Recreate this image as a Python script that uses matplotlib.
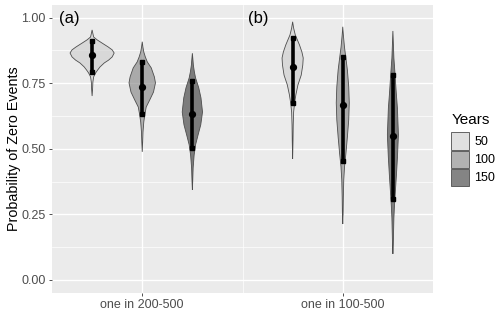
import matplotlib
matplotlib.use("Agg")
import matplotlib.pyplot as plt
from matplotlib.colors import to_rgba
from matplotlib.patches import Patch
import numpy as np

plt.rcParams["font.family"] = ["Liberation Sans", "DejaVu Sans"]

CATEGORIES = ["one in 200-500", "one in 100-500"]
PANEL_TAGS = ["(a)", "(b)"]
YEARS      = ["50", "100", "150"]

# violin outlines: probability level and density there
A50_Y  = [0.953, 0.941, 0.926, 0.915, 0.903, 0.888, 0.877, 0.865, 0.850,
          0.838, 0.827, 0.812, 0.800, 0.789, 0.774, 0.754, 0.724, 0.701]
A50_D  = [0.0, 0.3, 0.7, 2.3, 4.5, 7.3, 9.1, 10.0, 9.1,
          7.5, 5.5, 3.6, 2.5, 1.6, 0.7, 0.35, 0.2, 0.0]
A100_Y = [0.908, 0.888, 0.869, 0.850, 0.831, 0.808, 0.774, 0.751,
          0.716, 0.686, 0.659, 0.636, 0.602, 0.564, 0.526, 0.488]
A100_D = [0.0, 0.3, 0.7, 1.4, 2.3, 4.1, 5.5, 6.0,
          5.1, 3.4, 1.8, 1.3, 0.7, 0.35, 0.2, 0.0]
A150_Y = [0.864, 0.838, 0.819, 0.793, 0.770, 0.732, 0.694, 0.640,
          0.591, 0.553, 0.515, 0.476, 0.427, 0.381, 0.343]
A150_D = [0.0, 0.27, 0.45, 0.9, 1.45, 2.9, 3.9, 4.6,
          3.8, 2.6, 1.45, 0.8, 0.35, 0.18, 0.0]
B50_Y  = [0.984, 0.960, 0.934, 0.896, 0.869, 0.846, 0.819, 0.781,
          0.743, 0.705, 0.675, 0.640, 0.591, 0.534, 0.461]
B50_D  = [0.0, 0.45, 1.2, 3.1, 4.2, 4.8, 4.6, 3.9,
          2.4, 1.45, 0.9, 0.45, 0.27, 0.18, 0.0]
B100_Y = [0.965, 0.934, 0.888, 0.850, 0.800, 0.736, 0.675, 0.610,
          0.545, 0.484, 0.431, 0.381, 0.316, 0.259, 0.213]
B100_D = [0.0, 0.27, 0.77, 1.35, 2.1, 2.7, 2.95, 2.7,
          2.1, 1.45, 0.8, 0.45, 0.27, 0.18, 0.0]
B150_Y = [0.949, 0.896, 0.846, 0.781, 0.716, 0.655, 0.553, 0.465,
          0.400, 0.335, 0.286, 0.236, 0.171, 0.133, 0.099]
B150_D = [0.0, 0.23, 0.45, 1.0, 1.5, 2.05, 2.5, 2.05,
          1.6, 1.1, 0.73, 0.45, 0.27, 0.18, 0.0]

# median and interval bounds, per category, in YEARS order
MEDIAN_A = [0.857, 0.735, 0.633]
LOWER_A  = [0.794, 0.631, 0.502]
UPPER_A  = [0.912, 0.832, 0.758]
MEDIAN_B = [0.813, 0.666, 0.549]
LOWER_B  = [0.675, 0.455, 0.308]
UPPER_B  = [0.921, 0.849, 0.780]

PROFILES = [
    [(A50_Y, A50_D), (A100_Y, A100_D), (A150_Y, A150_D)],
    [(B50_Y, B50_D), (B100_Y, B100_D), (B150_Y, B150_D)],
]
MEDIANS = [MEDIAN_A, MEDIAN_B]
LOWERS  = [LOWER_A, LOWER_B]
UPPERS  = [UPPER_A, UPPER_B]

FILLS       = ["#CCCCCC", "#7F7F7F", "#333333"]
FILL_ALPHA  = 0.6
DODGE       = [-0.25, 0.0, 0.25]
WIDTH_SCALE = 0.011
PANEL_BG    = "#EBEBEB"


def main():
    fig = plt.figure(figsize=(5.0, 3.13), dpi=100)
    ax = fig.add_axes([0.104, 0.064, 0.762, 0.920])
    ax.set_facecolor(PANEL_BG)

    for ci in range(len(CATEGORIES)):
        for gi in range(len(YEARS)):
            x0 = ci + 1 + DODGE[gi]
            y = np.array(PROFILES[ci][gi][0])
            hw = np.array(PROFILES[ci][gi][1]) * WIDTH_SCALE
            xs = np.concatenate([x0 - hw, (x0 + hw)[::-1]])
            ys = np.concatenate([y, y[::-1]])
            ax.fill(xs, ys, facecolor=to_rgba(FILLS[gi], FILL_ALPHA),
                    edgecolor="#4D4D4D", linewidth=0.6, zorder=2)

            lo, hi, med = LOWERS[ci][gi], UPPERS[ci][gi], MEDIANS[ci][gi]
            ax.plot([x0, x0], [lo, hi], color="black", linewidth=2.6,
                    solid_capstyle="butt", zorder=3)
            ax.plot([x0, x0], [lo, hi], "s", color="black", markersize=3.4, zorder=4)
            ax.plot(x0, med, "o", color="black", markersize=4.2, zorder=4)

    ax.set_xlim(0.55, 2.45)
    ax.set_ylim(-0.05, 1.048)

    ax.set_xticks([1, 2])
    ax.set_xticklabels(CATEGORIES)
    ax.set_xticks([1.5], minor=True)
    yt = [0.0, 0.25, 0.5, 0.75, 1.0]
    ax.set_yticks(yt)
    ax.set_yticklabels([f"{v:.2f}" for v in yt])
    ax.set_yticks([0.125, 0.375, 0.625, 0.875], minor=True)

    ax.grid(which="major", color="white", linewidth=1.0, zorder=0)
    ax.grid(which="minor", color="white", linewidth=0.5, zorder=0)
    ax.set_axisbelow(True)
    for s in ax.spines.values():
        s.set_visible(False)
    ax.tick_params(which="major", length=2.5, width=0.6, color="#333333",
                   labelcolor="#4D4D4D", labelsize=9, pad=2)
    ax.tick_params(which="minor", length=0)

    ax.set_ylabel("Probability of Zero Events", fontsize=10.3, labelpad=0.5)

    for ci, tag in enumerate(PANEL_TAGS):
        ax.text(ci + 0.585 - 0.057 * ci, 0.998, tag, fontsize=12,
                ha="left", va="center", zorder=5)

    handles = [Patch(facecolor=to_rgba(c, FILL_ALPHA), edgecolor="#4D4D4D",
                     linewidth=0.6) for c in FILLS]
    leg = fig.legend(handles, YEARS, title="Years", loc="upper left",
                     bbox_to_anchor=(0.89, 0.66), frameon=False,
                     fontsize=9, title_fontsize=11, handlelength=1.45,
                     handleheight=1.75, labelspacing=0.08, handletextpad=0.4,
                     borderpad=0)
    leg._legend_box.align = "left"
    leg._legend_box.sep = 4

    fig.savefig("out.png", dpi=100)


if __name__ == "__main__":
    main()
